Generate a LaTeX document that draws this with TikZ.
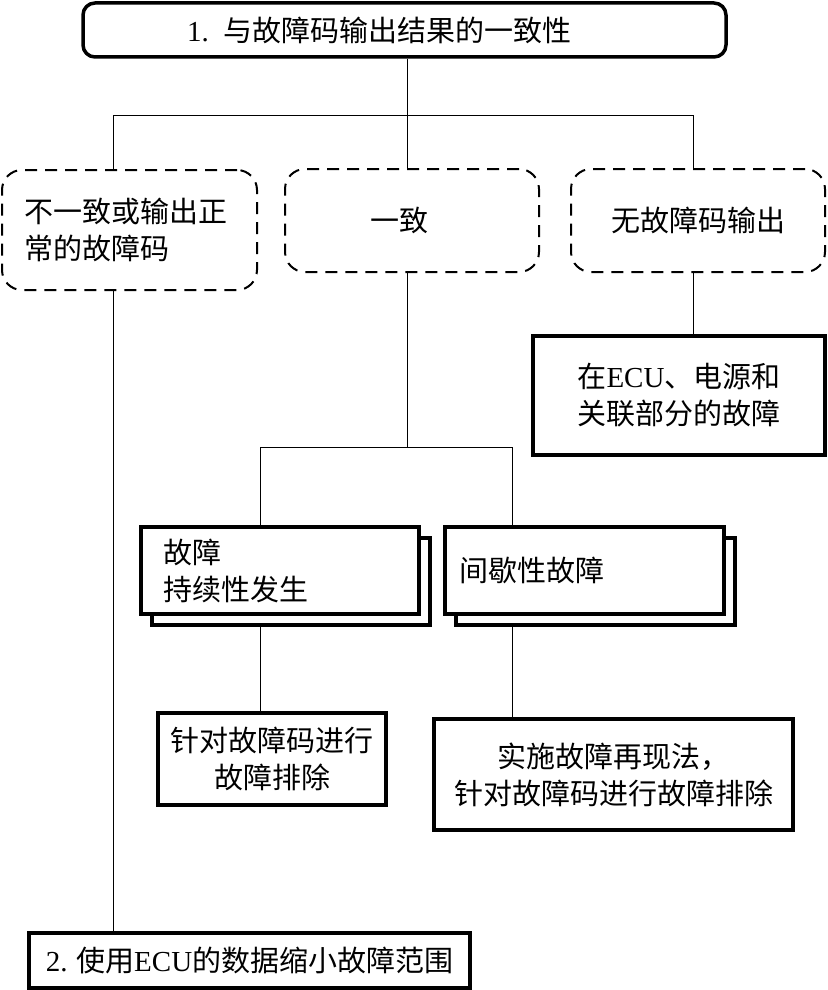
\documentclass[tikz,border=0pt]{standalone}
\usepackage{fontspec}
\setmainfont{Liberation Serif}
\newfontfamily\cjk{Noto Sans CJK SC}
\newcommand\lat[1]{{\rmfamily #1}}
\tikzset{
  base/.style={font=\fontsize{29}{37}\selectfont\cjk, inner sep=0pt, align=center},
  solidbox/.style={base, draw, line width=3.5pt, fill=white},
  dashbox/.style={base, draw, line width=2pt, dash pattern=on 12pt off 8pt, rounded corners=20pt},
  topbox/.style={base, draw, line width=3.5pt, rounded corners=12pt},
  conn/.style={line width=1pt},
}
\begin{document}
\begin{tikzpicture}[x=1pt,y=-1pt]
\useasboundingbox (0,0) rectangle (827,990);
\node[topbox, minimum width=643pt, minimum height=54pt, text width=435pt, inner xsep=104pt, align=left] (top) at (404.5,30) {\lat{1.} 与故障码输出结果的一致性};
\node[dashbox, minimum width=255pt, minimum height=120pt, text width=211pt, inner xsep=22pt, align=left] (L) at (129.5,230) {不一致或输出正\\常的故障码};
\node[dashbox, minimum width=254pt, minimum height=103pt, text width=84pt, inner xsep=85pt, align=left] (M) at (412,220.5) {一致};
\node[dashbox, minimum width=254pt, minimum height=103pt] (R) at (698,220.5) {无故障码输出};
\node[solidbox, minimum width=292pt, minimum height=119pt] (E) at (679,395.5) {在\lat{ECU}、电源和\\关联部分的故障};
\node[solidbox, minimum width=278pt, minimum height=87pt] (S1s) at (291,581.5) {};
\node[solidbox, minimum width=278pt, minimum height=87pt, text width=234pt, inner xsep=22pt, align=left] (S1) at (280,570.5) {故障\\持续性发生};
\node[solidbox, minimum width=279pt, minimum height=87pt] (S2s) at (595.5,581.5) {};
\node[solidbox, minimum width=279pt, minimum height=87pt, text width=251pt, inner xsep=14pt, align=left] (S2) at (584.5,570.5) {间歇性故障};
\node[solidbox, minimum width=228pt, minimum height=92pt] (A1) at (272,759) {针对故障码进行\\故障排除};
\node[solidbox, minimum width=359pt, minimum height=111pt] (A2) at (613.5,774.5) {实施故障再现法，\\针对故障码进行故障排除};
\node[solidbox, minimum width=441pt, minimum height=55pt] (B) at (249.5,960.5) {\lat{2.} 使用\lat{ECU}的数据缩小故障范围};
\coordinate (c1) at (407,115);
\coordinate (cL) at (113,115);
\coordinate (cR) at (693,115);
\draw[conn] (top.south -| c1) -- (M.north -| c1);
\draw[conn] (L.north -| cL) -- (cL) -- (cR) -- (R.north -| cR);
\draw[conn] (R.south -| cR) -- (E.north -| cR);
\draw[conn] (L.south -| cL) -- (B.north -| cL);
\coordinate (c2) at (407,447);
\coordinate (c3) at (260,447);
\coordinate (c4) at (512,447);
\draw[conn] (M.south -| c2) -- (c2);
\draw[conn] (S1.north -| c3) -- (c3) -- (c4) -- (S2.north -| c4);
\draw[conn] (S1s.south -| c3) -- (A1.north -| c3);
\draw[conn] (S2s.south -| c4) -- (A2.north -| c4);
\end{tikzpicture}
\end{document}
